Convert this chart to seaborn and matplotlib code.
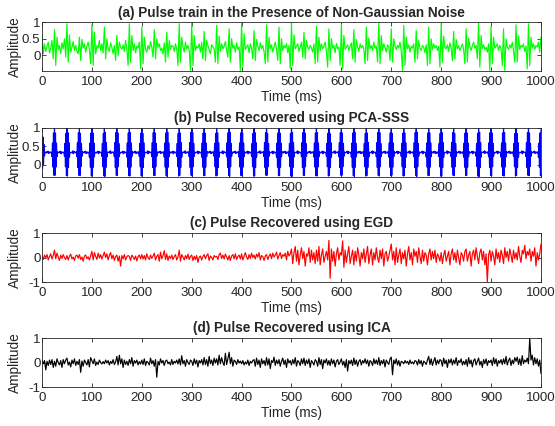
import numpy as np
import matplotlib
matplotlib.use("Agg")
import matplotlib.pyplot as plt
import seaborn as sns

# time axes (ms): 2.5 ms per sample for a, c, d; 1 ms per sample for b
time_ms = np.linspace(0, 1000, 401)
time_fine = np.linspace(0, 1000, 1001)

# (a) pulse train + non-gaussian noise (rows = 25 ms)
noisy_train = [
    0.60, 0.05, 0.35, 0.12, 0.28, 0.40, 0.08, 0.22, 0.45, -0.10,
    0.78, -0.30, 0.55, 0.18, 0.30, 0.05, 0.38, 0.20, 0.50, -0.05,
    0.95, -0.20, 0.62, 0.10, 0.25, 0.42, 0.15, 0.30, 0.12, 0.05,
    0.55, -0.15, 0.48, 0.22, 0.35, 0.10, 0.28, 0.40, 0.18, -0.25,
    0.92, -0.30, 0.70, 0.05, 0.30, 0.22, 0.45, 0.15, 0.35, 0.08,
    0.85, -0.10, 0.50, 0.20, 0.12, 0.38, 0.25, 0.05, 0.30, -0.15,
    0.60, 0.00, 0.40, 0.25, 0.18, 0.32, 0.12, 0.45, 0.20, -0.30,
    0.95, -0.20, 0.60, 0.15, 0.35, 0.08, 0.28, 0.22, 0.40, -0.40,
    0.85, -0.25, 0.55, 0.20, 0.10, 0.30, 0.18, 0.42, 0.25, -0.05,
    0.78, -0.10, 0.50, 0.25, 0.35, 0.15, 0.22, 0.05, 0.38, -0.20,
    0.70, -0.05, 0.45, 0.18, 0.30, 0.28, 0.12, 0.35, 0.20, -0.30,
    0.95, -0.20, 0.55, 0.25, 0.10, 0.40, 0.20, 0.30, 0.15, -0.45,
    0.98, -0.30, 0.60, 0.15, 0.28, 0.22, 0.35, 0.10, 0.40, -0.10,
    0.72, -0.15, 0.45, 0.30, 0.18, 0.05, 0.32, 0.25, 0.20, -0.20,
    0.90, -0.25, 0.58, 0.12, 0.35, 0.20, 0.28, 0.42, 0.15, -0.05,
    0.80, -0.20, 0.50, 0.22, 0.30, 0.10, 0.38, 0.18, 0.26, -0.45,
    0.98, -0.35, 0.65, 0.18, 0.25, 0.32, 0.08, 0.35, 0.22, -0.10,
    0.75, -0.15, 0.48, 0.28, 0.15, 0.38, 0.20, 0.30, 0.12, -0.25,
    0.92, -0.20, 0.55, 0.20, 0.32, 0.10, 0.25, 0.40, 0.18, -0.15,
    0.85, -0.25, 0.50, 0.15, 0.30, 0.22, 0.35, 0.08, 0.30, -0.40,
    0.98, -0.30, 0.62, 0.20, 0.28, 0.35, 0.12, 0.25, 0.40, -0.05,
    0.70, -0.10, 0.45, 0.25, 0.18, 0.30, 0.22, 0.10, 0.35, -0.25,
    0.88, -0.20, 0.55, 0.15, 0.35, 0.20, 0.28, 0.40, 0.12, -0.35,
    0.80, -0.15, 0.50, 0.22, 0.30, 0.08, 0.36, 0.20, 0.25, -0.30,
    0.92, -0.40, 0.60, 0.18, 0.25, 0.32, 0.15, 0.28, 0.38, -0.10,
    0.78, -0.20, 0.48, 0.25, 0.12, 0.35, 0.22, 0.30, 0.18, -0.25,
    0.85, -0.15, 0.52, 0.20, 0.30, 0.15, 0.40, 0.22, 0.28, -0.20,
    0.98, -0.25, 0.60, 0.15, 0.35, 0.22, 0.10, 0.32, 0.25, -0.15,
    0.80, -0.20, 0.50, 0.28, 0.18, 0.30, 0.22, 0.40, 0.12, -0.45,
    0.90, -0.30, 0.55, 0.20, 0.32, 0.10, 0.28, 0.22, 0.35, -0.20,
    0.75, -0.10, 0.45, 0.22, 0.15, 0.30, 0.25, 0.08, 0.32, -0.30,
    0.85, -0.25, 0.50, 0.18, 0.35, 0.22, 0.30, 0.15, 0.28, -0.35,
    0.95, -0.20, 0.58, 0.25, 0.20, 0.32, 0.12, 0.38, 0.22, -0.15,
    0.72, -0.10, 0.48, 0.20, 0.30, 0.15, 0.25, 0.35, 0.18, -0.25,
    0.80, -0.20, 0.52, 0.28, 0.15, 0.30, 0.40, 0.22, 0.30, -0.10,
    0.98, -0.35, 0.60, 0.20, 0.32, 0.18, 0.25, 0.10, 0.35, -0.45,
    0.88, -0.25, 0.55, 0.22, 0.28, 0.35, 0.15, 0.30, 0.20, -0.30,
    0.80, -0.45, 0.50, 0.25, 0.18, 0.32, 0.22, 0.40, 0.15, -0.20,
    0.92, -0.20, 0.58, 0.18, 0.30, 0.25, 0.35, 0.12, 0.28, -0.40,
    0.95, -0.30, 0.55, 0.22, 0.35, 0.18, 0.30, 0.25, 0.40, 0.10,
    0.55,
]

# (b) PCA-SSS recovered pulses: dense burst every 25 ms on a ~0.34 baseline
# (rows = 25 ms at 1 ms per sample)
pca_sss = [
    0.80, -0.10, 0.75, 0.02, 0.55, 0.24, 0.35, 0.33, 0.34, 0.32, 0.36, 0.33, 0.37, 0.31, 0.35, 0.32, 0.34, 0.35, 0.33, 0.34, 0.22, 0.59, -0.06, 0.86, -0.28,
    1.00, -0.28, 0.86, -0.06, 0.59, 0.22, 0.35, 0.33, 0.34, 0.32, 0.36, 0.33, 0.37, 0.30, 0.35, 0.32, 0.34, 0.35, 0.33, 0.34, 0.23, 0.58, -0.05, 0.85, -0.29,
    0.99, -0.30, 0.87, -0.07, 0.60, 0.21, 0.34, 0.34, 0.33, 0.33, 0.35, 0.32, 0.38, 0.30, 0.36, 0.33, 0.35, 0.34, 0.32, 0.35, 0.22, 0.60, -0.07, 0.87, -0.28,
    1.00, -0.29, 0.85, -0.05, 0.58, 0.23, 0.36, 0.32, 0.34, 0.33, 0.36, 0.33, 0.37, 0.31, 0.35, 0.31, 0.34, 0.35, 0.33, 0.34, 0.21, 0.59, -0.06, 0.86, -0.30,
    0.98, -0.28, 0.86, -0.06, 0.59, 0.22, 0.35, 0.33, 0.33, 0.32, 0.35, 0.34, 0.37, 0.30, 0.36, 0.32, 0.35, 0.34, 0.33, 0.34, 0.23, 0.58, -0.05, 0.85, -0.29,
    1.00, -0.31, 0.88, -0.07, 0.60, 0.21, 0.34, 0.34, 0.34, 0.33, 0.36, 0.32, 0.38, 0.31, 0.35, 0.33, 0.34, 0.35, 0.32, 0.35, 0.22, 0.60, -0.07, 0.87, -0.28,
    0.99, -0.29, 0.86, -0.05, 0.58, 0.23, 0.35, 0.32, 0.33, 0.33, 0.35, 0.33, 0.37, 0.30, 0.36, 0.32, 0.35, 0.34, 0.33, 0.34, 0.21, 0.59, -0.06, 0.86, -0.29,
    1.00, -0.30, 0.87, -0.06, 0.59, 0.22, 0.36, 0.33, 0.34, 0.32, 0.36, 0.34, 0.37, 0.31, 0.35, 0.31, 0.34, 0.35, 0.32, 0.35, 0.23, 0.58, -0.05, 0.85, -0.30,
    0.98, -0.28, 0.85, -0.07, 0.60, 0.21, 0.34, 0.34, 0.33, 0.33, 0.35, 0.32, 0.38, 0.30, 0.36, 0.33, 0.35, 0.34, 0.33, 0.34, 0.22, 0.60, -0.07, 0.87, -0.28,
    1.00, -0.29, 0.86, -0.05, 0.58, 0.23, 0.35, 0.32, 0.34, 0.33, 0.36, 0.33, 0.37, 0.31, 0.35, 0.32, 0.34, 0.35, 0.32, 0.35, 0.21, 0.59, -0.06, 0.86, -0.29,
    0.99, -0.31, 0.88, -0.06, 0.59, 0.22, 0.36, 0.33, 0.33, 0.32, 0.35, 0.34, 0.37, 0.30, 0.36, 0.32, 0.35, 0.34, 0.33, 0.34, 0.23, 0.58, -0.05, 0.85, -0.30,
    1.00, -0.28, 0.86, -0.07, 0.60, 0.21, 0.34, 0.34, 0.34, 0.33, 0.36, 0.32, 0.38, 0.31, 0.35, 0.33, 0.34, 0.35, 0.32, 0.35, 0.22, 0.60, -0.07, 0.87, -0.28,
    0.98, -0.30, 0.87, -0.05, 0.58, 0.23, 0.35, 0.32, 0.33, 0.33, 0.35, 0.33, 0.37, 0.30, 0.36, 0.32, 0.35, 0.34, 0.33, 0.34, 0.21, 0.59, -0.06, 0.86, -0.29,
    1.00, -0.29, 0.85, -0.06, 0.59, 0.22, 0.36, 0.33, 0.34, 0.32, 0.36, 0.34, 0.37, 0.31, 0.35, 0.31, 0.34, 0.35, 0.32, 0.35, 0.23, 0.58, -0.05, 0.85, -0.30,
    0.99, -0.28, 0.86, -0.07, 0.60, 0.21, 0.34, 0.34, 0.33, 0.33, 0.35, 0.32, 0.38, 0.30, 0.36, 0.33, 0.35, 0.34, 0.33, 0.34, 0.22, 0.60, -0.07, 0.87, -0.28,
    1.00, -0.31, 0.88, -0.05, 0.58, 0.23, 0.35, 0.32, 0.34, 0.33, 0.36, 0.33, 0.37, 0.31, 0.35, 0.32, 0.34, 0.35, 0.32, 0.35, 0.21, 0.59, -0.06, 0.86, -0.29,
    0.98, -0.29, 0.86, -0.06, 0.59, 0.22, 0.36, 0.33, 0.33, 0.32, 0.35, 0.34, 0.37, 0.30, 0.36, 0.32, 0.35, 0.34, 0.33, 0.34, 0.23, 0.58, -0.05, 0.85, -0.30,
    1.00, -0.30, 0.87, -0.07, 0.60, 0.21, 0.34, 0.34, 0.34, 0.33, 0.36, 0.32, 0.38, 0.31, 0.35, 0.33, 0.34, 0.35, 0.32, 0.35, 0.22, 0.60, -0.07, 0.87, -0.28,
    0.99, -0.28, 0.85, -0.05, 0.58, 0.23, 0.35, 0.32, 0.33, 0.33, 0.35, 0.33, 0.37, 0.30, 0.36, 0.32, 0.35, 0.34, 0.33, 0.34, 0.21, 0.59, -0.06, 0.86, -0.29,
    1.00, -0.29, 0.86, -0.06, 0.59, 0.22, 0.36, 0.33, 0.34, 0.32, 0.36, 0.34, 0.37, 0.31, 0.35, 0.31, 0.34, 0.35, 0.32, 0.35, 0.23, 0.58, -0.05, 0.85, -0.30,
    0.98, -0.31, 0.88, -0.07, 0.60, 0.21, 0.34, 0.34, 0.33, 0.33, 0.35, 0.32, 0.38, 0.30, 0.36, 0.33, 0.35, 0.34, 0.33, 0.34, 0.22, 0.60, -0.07, 0.87, -0.28,
    1.00, -0.28, 0.86, -0.05, 0.58, 0.23, 0.35, 0.32, 0.34, 0.33, 0.36, 0.33, 0.37, 0.31, 0.35, 0.32, 0.34, 0.35, 0.32, 0.35, 0.21, 0.59, -0.06, 0.86, -0.29,
    0.99, -0.30, 0.87, -0.06, 0.59, 0.22, 0.36, 0.33, 0.33, 0.32, 0.35, 0.34, 0.37, 0.30, 0.36, 0.32, 0.35, 0.34, 0.33, 0.34, 0.23, 0.58, -0.05, 0.85, -0.30,
    1.00, -0.29, 0.85, -0.07, 0.60, 0.21, 0.34, 0.34, 0.34, 0.33, 0.36, 0.32, 0.38, 0.31, 0.35, 0.33, 0.34, 0.35, 0.32, 0.35, 0.22, 0.60, -0.07, 0.87, -0.28,
    0.98, -0.28, 0.86, -0.05, 0.58, 0.23, 0.35, 0.32, 0.33, 0.33, 0.35, 0.33, 0.37, 0.30, 0.36, 0.32, 0.35, 0.34, 0.33, 0.34, 0.21, 0.59, -0.06, 0.86, -0.29,
    1.00, -0.31, 0.88, -0.06, 0.59, 0.22, 0.36, 0.33, 0.34, 0.32, 0.36, 0.34, 0.37, 0.31, 0.35, 0.31, 0.34, 0.35, 0.32, 0.35, 0.23, 0.58, -0.05, 0.85, -0.30,
    0.99, -0.29, 0.86, -0.07, 0.60, 0.21, 0.34, 0.34, 0.33, 0.33, 0.35, 0.32, 0.38, 0.30, 0.36, 0.33, 0.35, 0.34, 0.33, 0.34, 0.22, 0.60, -0.07, 0.87, -0.28,
    1.00, -0.30, 0.87, -0.05, 0.58, 0.23, 0.35, 0.32, 0.34, 0.33, 0.36, 0.33, 0.37, 0.31, 0.35, 0.32, 0.34, 0.35, 0.32, 0.35, 0.21, 0.59, -0.06, 0.86, -0.29,
    0.98, -0.28, 0.85, -0.06, 0.59, 0.22, 0.36, 0.33, 0.33, 0.32, 0.35, 0.34, 0.37, 0.30, 0.36, 0.32, 0.35, 0.34, 0.33, 0.34, 0.23, 0.58, -0.05, 0.85, -0.30,
    1.00, -0.29, 0.86, -0.07, 0.60, 0.21, 0.34, 0.34, 0.34, 0.33, 0.36, 0.32, 0.38, 0.31, 0.35, 0.33, 0.34, 0.35, 0.32, 0.35, 0.22, 0.60, -0.07, 0.87, -0.28,
    0.99, -0.31, 0.88, -0.05, 0.58, 0.23, 0.35, 0.32, 0.33, 0.33, 0.35, 0.33, 0.37, 0.30, 0.36, 0.32, 0.35, 0.34, 0.33, 0.34, 0.21, 0.59, -0.06, 0.86, -0.29,
    1.00, -0.28, 0.86, -0.06, 0.59, 0.22, 0.36, 0.33, 0.34, 0.32, 0.36, 0.34, 0.37, 0.31, 0.35, 0.31, 0.34, 0.35, 0.32, 0.35, 0.23, 0.58, -0.05, 0.85, -0.30,
    0.98, -0.30, 0.87, -0.07, 0.60, 0.21, 0.34, 0.34, 0.33, 0.33, 0.35, 0.32, 0.38, 0.30, 0.36, 0.33, 0.35, 0.34, 0.33, 0.34, 0.22, 0.60, -0.07, 0.87, -0.28,
    1.00, -0.29, 0.85, -0.05, 0.58, 0.23, 0.35, 0.32, 0.34, 0.33, 0.36, 0.33, 0.37, 0.31, 0.35, 0.32, 0.34, 0.35, 0.32, 0.35, 0.21, 0.59, -0.06, 0.86, -0.29,
    0.99, -0.28, 0.86, -0.06, 0.59, 0.22, 0.36, 0.33, 0.33, 0.32, 0.35, 0.34, 0.37, 0.30, 0.36, 0.32, 0.35, 0.34, 0.33, 0.34, 0.23, 0.58, -0.05, 0.85, -0.30,
    1.00, -0.31, 0.88, -0.07, 0.60, 0.21, 0.34, 0.34, 0.34, 0.33, 0.36, 0.32, 0.38, 0.31, 0.35, 0.33, 0.34, 0.35, 0.32, 0.35, 0.22, 0.60, -0.07, 0.87, -0.28,
    0.98, -0.29, 0.86, -0.05, 0.58, 0.23, 0.35, 0.32, 0.33, 0.33, 0.35, 0.33, 0.37, 0.30, 0.36, 0.32, 0.35, 0.34, 0.33, 0.34, 0.21, 0.59, -0.06, 0.86, -0.29,
    1.00, -0.30, 0.87, -0.06, 0.59, 0.22, 0.36, 0.33, 0.34, 0.32, 0.36, 0.34, 0.37, 0.31, 0.35, 0.31, 0.34, 0.35, 0.32, 0.35, 0.23, 0.58, -0.05, 0.85, -0.30,
    0.99, -0.28, 0.85, -0.07, 0.60, 0.21, 0.34, 0.34, 0.33, 0.33, 0.35, 0.32, 0.38, 0.30, 0.36, 0.33, 0.35, 0.34, 0.33, 0.34, 0.22, 0.60, -0.07, 0.87, -0.28,
    1.00, -0.29, 0.86, -0.05, 0.58, 0.23, 0.35, 0.32, 0.34, 0.33, 0.36, 0.33, 0.37, 0.31, 0.35, 0.32, 0.34, 0.35, 0.32, 0.35, 0.21, 0.59, -0.06, 0.86, -0.29,
    0.95,
]

# (c) EGD output, quiet first half, louder after 500 ms
egd = [
    0.05, -0.08, 0.10, -0.02, 0.12, -0.10, 0.04, 0.15, -0.06, 0.08,
    0.30, -0.05, 0.18, 0.02, -0.12, 0.10, -0.04, 0.12, 0.00, -0.08,
    0.08, -0.10, 0.05, 0.14, -0.06, 0.02, -0.12, 0.06, 0.10, -0.03,
    0.12, -0.08, 0.02, -0.15, 0.06, 0.10, -0.05, 0.03, -0.10, 0.07,
    0.25, -0.10, 0.20, 0.05, -0.08, 0.18, -0.02, 0.12, -0.06, 0.08,
    0.22, 0.00, 0.15, -0.10, 0.08, 0.20, -0.05, 0.10, -0.12, 0.04,
    0.10, -0.15, 0.06, -0.35, 0.08, -0.05, 0.12, -0.10, 0.03, 0.08,
    0.05, -0.12, 0.10, 0.02, -0.08, 0.06, -0.14, 0.04, 0.10, -0.05,
    0.12, -0.06, 0.08, -0.10, 0.15, 0.00, -0.08, 0.10, -0.04, 0.06,
    0.18, -0.10, 0.05, 0.12, -0.15, 0.22, -0.05, 0.08, 0.28, -0.08,
    0.15, -0.12, 0.06, -0.04, 0.10, -0.08, 0.04, 0.12, -0.10, 0.02,
    0.30, -0.15, 0.12, 0.02, -0.10, 0.08, -0.05, 0.14, -0.08, 0.05,
    0.10, -0.12, 0.05, -0.08, 0.08, -0.20, 0.02, 0.06, -0.10, 0.04,
    0.12, -0.05, 0.08, 0.15, -0.12, 0.06, 0.00, -0.10, 0.08, 0.02,
    0.05, -0.08, 0.12, 0.18, -0.04, 0.10, -0.06, 0.14, 0.02, -0.10,
    0.08, -0.12, 0.06, 0.12, -0.05, 0.15, -0.08, 0.04, 0.10, -0.06,
    0.15, -0.10, 0.05, 0.20, 0.02, -0.08, 0.12, -0.04, 0.18, 0.00,
    0.10, -0.06, 0.14, 0.02, 0.20, -0.10, 0.08, 0.04, -0.12, 0.06,
    0.12, -0.08, 0.05, 0.15, -0.05, 0.18, 0.02, 0.10, 0.22, -0.06,
    0.08, 0.20, -0.04, 0.12, 0.05, 0.18, -0.10, 0.25, 0.06, 0.15,
    0.35, -0.25, 0.20, 0.45, -0.15, 0.30, -0.30, 0.10, 0.40, -0.05,
    0.25, -0.35, 0.15, 0.05, 0.40, -0.20, 0.30, -0.10, 0.20, -0.25,
    0.30, -0.15, 0.45, -0.30, 0.10, 0.35, -0.20, 0.05, 0.25, -0.10,
    0.70, -0.85, 0.35, -0.15, 0.25, -0.35, 0.15, 0.40, -0.10, 0.20,
    0.10, 0.68, -0.40, 0.30, -0.20, 0.15, 0.45, -0.25, 0.05, 0.30,
    -0.30, 0.25, -0.15, 0.40, 0.10, -0.35, 0.20, -0.05, 0.35, -0.20,
    0.15, 0.45, -0.25, 0.10, 0.35, -0.30, 0.20, -0.10, 0.40, 0.00,
    -0.20, 0.30, -0.05, 0.35, -0.35, 0.15, 0.25, -0.15, 0.05, 0.30,
    0.55, -0.10, 0.25, -0.30, 0.40, -0.20, 0.10, 0.35, -0.25, 0.20,
    -0.05, 0.30, -0.35, 0.15, 0.45, -0.10, 0.20, -0.30, 0.35, 0.05,
    0.25, -0.20, 0.40, 0.05, -0.25, 0.30, -0.15, 0.20, 0.10, -0.30,
    0.15, 0.35, -0.10, 0.25, -0.05, 0.30, -0.20, 0.15, 0.05, -0.15,
    0.20, -0.25, 0.10, 0.30, -0.15, 0.05, 0.25, -0.30, 0.15, 0.35,
    -0.10, 0.20, -0.20, 0.30, 0.00, -0.30, 0.20, 0.10, -0.15, 0.25,
    0.35, -0.15, 0.10, 0.25, -0.35, 0.15, 0.30, -0.10, 0.40, 0.05,
    -0.25, 0.20, 0.35, -0.10, 0.25, -0.30, 0.15, -1.00, 0.10, 0.30,
    -0.15, 0.25, 0.05, -0.30, 0.35, -0.05, 0.20, -0.20, 0.30, 0.10,
    -0.25, 0.40, 0.00, 0.25, -0.15, 0.35, 0.10, -0.20, 0.30, -0.05,
    0.20, -0.10, 0.45, 0.05, -0.20, 0.30, 0.15, 0.50, -0.05, 0.25,
    0.10, 0.35, -0.15, 0.25, 0.05, 0.40, -0.35, 0.20, -0.10, 0.15,
    0.55,
]

# (d) ICA output, small noise with one spike near 978 ms
ica = [
    0.10, -0.05, 0.08, -0.30, 0.05, -0.12, 0.10, -0.08, 0.12, -0.20,
    0.05, -0.15, 0.15, 0.00, -0.10, 0.08, -0.20, 0.12, -0.05, 0.10,
    0.18, -0.10, 0.02, -0.18, 0.10, -0.05, 0.15, -0.12, 0.05, -0.08,
    0.12, -0.40, 0.06, -0.15, 0.10, 0.00, -0.10, 0.12, -0.18, 0.20,
    0.08, -0.05, 0.15, -0.12, 0.02, -0.08, 0.10, 0.00, -0.06, 0.04,
    -0.05, 0.10, -0.02, 0.08, -0.10, 0.05, -0.04, 0.12, -0.08, 0.02,
    0.25, -0.10, 0.30, -0.05, 0.15, -0.20, 0.10, -0.08, 0.05, -0.12,
    0.12, -0.05, 0.20, -0.15, 0.08, -0.02, 0.10, -0.10, 0.04, -0.06,
    0.10, -0.08, 0.15, -0.12, 0.05, 0.00, -0.10, 0.18, -0.05, 0.08,
    -0.15, 0.12, -0.60, 0.05, -0.10, 0.15, -0.02, 0.08, -0.12, 0.06,
    0.10, -0.05, 0.02, -0.10, 0.12, -0.08, 0.05, -0.02, 0.10, -0.06,
    0.15, -0.10, 0.28, -0.05, 0.08, -0.15, 0.12, 0.00, -0.08, 0.10,
    0.05, -0.12, 0.15, -0.05, 0.10, -0.18, 0.08, -0.02, 0.12, -0.10,
    0.20, -0.08, 0.12, -0.15, 0.25, -0.05, 0.10, -0.12, 0.18, -0.02,
    0.15, -0.10, 0.30, -0.05, 0.20, 0.00, -0.12, 0.38, -0.08, 0.15,
    0.42, -0.05, 0.20, -0.15, 0.10, 0.05, -0.08, 0.12, -0.02, 0.06,
    -0.05, 0.08, -0.10, 0.02, -0.06, 0.10, -0.12, 0.05, -0.02, 0.08,
    0.12, -0.15, 0.18, -0.08, 0.10, -0.20, 0.15, -0.05, 0.08, -0.12,
    0.20, -0.10, 0.15, -0.25, 0.08, 0.00, 0.22, -0.12, 0.10, -0.05,
    0.12, -0.15, 0.05, 0.18, -0.08, 0.10, -0.20, 0.15, -0.02, 0.08,
    -0.10, 0.12, -0.05, 0.20, -0.15, 0.08, 0.02, -0.12, 0.15, -0.05,
    0.18, -0.12, 0.10, -0.05, 0.15, -0.20, 0.08, 0.00, -0.10, 0.12,
    0.05, -0.15, 0.20, -0.08, 0.12, -0.25, 0.10, -0.02, 0.15, -0.10,
    0.08, -0.12, 0.15, -0.05, 0.10, -0.18, 0.05, 0.12, -0.08, 0.02,
    0.15, -0.10, 0.05, -0.20, 0.12, -0.35, 0.08, -0.05, 0.10, -0.12,
    0.18, -0.08, 0.10, -0.15, 0.05, 0.12, -0.10, 0.08, -0.02, 0.15,
    -0.05, 0.10, -0.15, 0.08, 0.02, -0.12, 0.15, -0.05, 0.10, -0.08,
    0.20, -0.12, 0.08, -0.05, 0.12, -0.18, 0.10, 0.00, -0.08, 0.15,
    0.22, -0.50, 0.10, -0.05, 0.15, -0.10, 0.08, -0.15, 0.05, 0.02,
    -0.05, 0.08, -0.02, 0.05, -0.08, 0.10, -0.04, 0.02, -0.06, 0.08,
    0.05, -0.10, 0.12, -0.05, 0.08, -0.15, 0.06, 0.00, -0.08, 0.10,
    0.25, -0.08, 0.15, -0.12, 0.05, 0.20, -0.10, 0.10, -0.05, 0.12,
    0.08, -0.15, 0.18, -0.05, 0.10, -0.20, 0.12, -0.02, 0.15, -0.10,
    0.10, -0.05, 0.20, -0.12, 0.08, 0.00, 0.15, -0.10, 0.05, -0.08,
    0.12, -0.15, 0.20, -0.05, 0.10, -0.18, 0.08, 0.15, -0.10, 0.05,
    0.18, -0.10, 0.05, -0.20, 0.12, -0.05, 0.15, -0.12, 0.08, 0.00,
    0.10, -0.12, 0.20, -0.05, 0.15, -0.15, 0.08, -0.02, 0.12, -0.08,
    0.15, -0.05, 0.25, -0.10, 0.08, 0.18, -0.12, 0.10, -0.05, 0.20,
    0.05, 0.22, -0.08, 0.15, -0.12, 0.28, -0.05, 0.10, 0.02, 0.18,
    -0.05, 1.00, 0.10, 0.30, -0.10, 0.20, -0.05, 0.15, -0.15, 0.10,
    -0.45,
]

titles = [
    "(a) Pulse train in the Presence of Non-Gaussian Noise",
    "(b) Pulse Recovered using PCA-SSS",
    "(c) Pulse Recovered using EGD",
    "(d) Pulse Recovered using ICA",
]
colors = ["#00ff00", "#0000ff", "#ff0000", "#000000"]
y_limits = [(-0.47, 1), (-0.32, 1), (-1, 1), (-1, 1)]
y_ticks = [[0, 0.5, 1], [0, 0.5, 1], [-1, 0, 1], [-1, 0, 1]]
y_ticklabels = [["0", "0.5", "1"], ["0", "0.5", "1"], ["-1", "0", "1"], ["-1", "0", "1"]]
x_ticks = [0, 100, 200, 300, 400, 500, 600, 700, 800, 900, 1000]

sns.set_style("ticks")
plt.rcParams['font.family'] = ['Liberation Sans', 'DejaVu Sans']
plt.rcParams['axes.unicode_minus'] = False

fig = plt.figure(figsize=(5.55, 4.26), dpi=100)
bottoms = [0.833, 0.585, 0.338, 0.0915]
dark = "#262626"
panels = [(time_ms, noisy_train), (time_fine, pca_sss), (time_ms, egd), (time_ms, ica)]

for i, (t, series) in enumerate(panels):
    ax = fig.add_axes([0.0757, bottoms[i], 0.899, 0.115])
    sns.lineplot(x=t, y=series, ax=ax, color=colors[i],
                 linewidth=0.85, estimator=None, sort=False)
    ax.set_xlim(0, 1000)
    ax.set_ylim(*y_limits[i])
    ax.set_xticks(x_ticks)
    ax.set_yticks(y_ticks[i])
    ax.set_yticklabels(y_ticklabels[i])
    ax.tick_params(direction='in', top=True, right=True, length=3,
                   width=0.6, colors=dark, labelsize=9.6)
    ax.tick_params(axis='x', pad=3.5)
    ax.tick_params(axis='y', pad=1)
    for sp in ax.spines.values():
        sp.set_linewidth(0.6)
        sp.set_color(dark)
    ax.set_title(titles[i], fontsize=9.8, fontweight='bold', pad=4)
    ax.set_xlabel("Time (ms)", fontsize=9.8, color=dark, labelpad=1.5)
    ax.set_ylabel("Amplitude", fontsize=9.8, color=dark)
    ax.yaxis.set_label_coords(-0.04, 0.5)

fig.savefig("out.png", dpi=100)
